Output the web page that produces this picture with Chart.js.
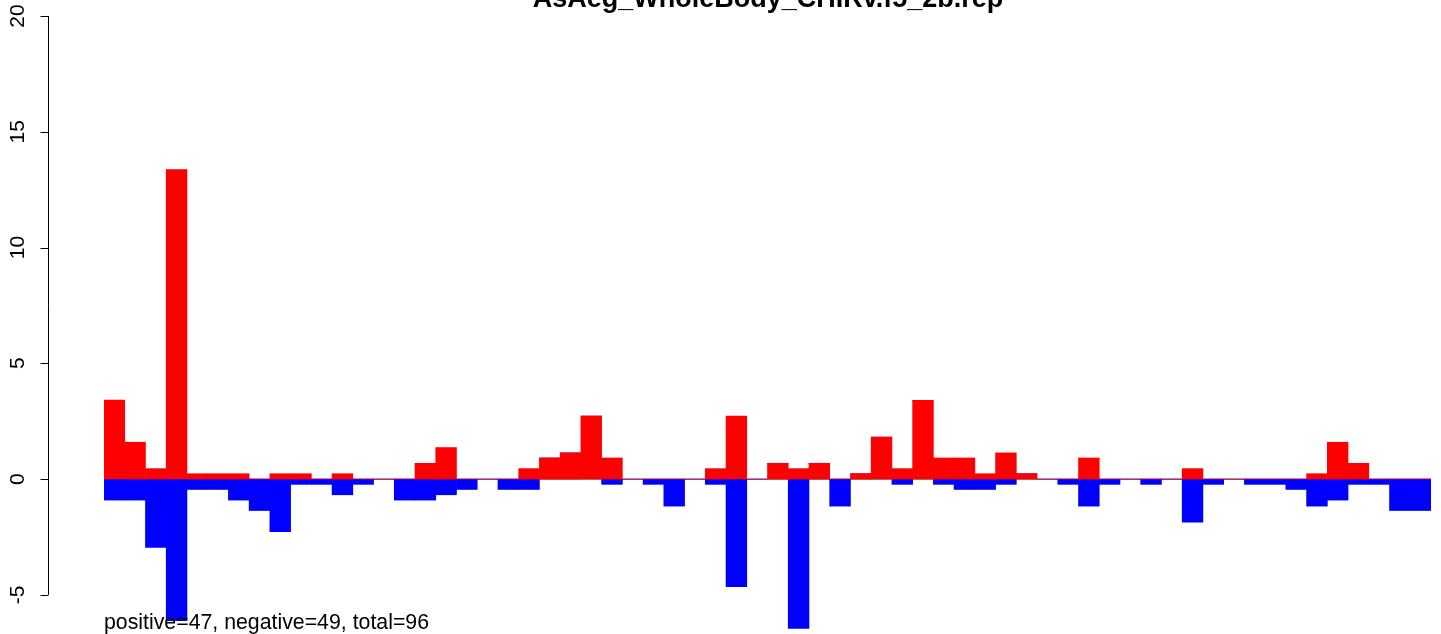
<!DOCTYPE html>
<html>
<head>
<meta charset="utf-8">
<script src="https://cdn.jsdelivr.net/npm/chart.js@4/dist/chart.umd.min.js"></script>
<style>
html,body{margin:0;padding:0;background:#fff;}
canvas{display:block;}
</style>
</head>
<body>
<canvas id="c" width="1441" height="634"></canvas>
<script>
const titleText = "AsAeg_WholeBody_CHIRv.f5_2b.rep";
const noteText = "positive=47, negative=49, total=96";
const categories = Array.from({length: 64}, (_, i) => String(i + 1));
const positiveValues = [
  3.41, 1.59, 0.45, 13.37, 0.23, 0.23, 0.23, 0, 0.23, 0.23,
  0, 0.23, 0, 0, 0, 0.68, 1.36, 0, 0, 0,
  0.45, 0.91, 1.13, 2.72, 0.91, 0, 0, 0, 0, 0.45,
  2.72, 0, 0.68, 0.45, 0.68, 0, 0.23, 1.81, 0.45, 3.40,
  0.91, 0.91, 0.23, 1.13, 0.23, 0, 0, 0.91, 0, 0,
  0, 0, 0.45, 0, 0, 0, 0, 0, 0.23, 1.59,
  0.68, 0, 0, 0
];
const negativeValues = [
  -0.91, -0.91, -2.95, -6.12, -0.45, -0.45, -0.91, -1.36, -2.27, -0.23,
  -0.23, -0.68, -0.23, 0, -0.91, -0.91, -0.68, -0.45, 0, -0.45,
  -0.45, 0, 0, 0, -0.23, 0, -0.23, -1.17, 0, -0.23,
  -4.65, 0, 0, -6.45, 0, -1.17, 0, 0, -0.23, 0,
  -0.23, -0.45, -0.45, -0.23, 0, 0, -0.23, -1.17, -0.23, 0,
  -0.23, 0, -1.86, -0.23, 0, -0.23, -0.23, -0.45, -1.17, -0.91,
  -0.23, -0.23, -1.36, -1.36
];
const yTicks = [-5, 0, 5, 10, 15, 20];

const decor = {
  id: 'decor',
  beforeDatasetsDraw(chart) {
    const {ctx, chartArea, scales: {y}} = chart;
    const y0 = Math.round(y.getPixelForValue(0)) + 0.5;
    ctx.save();
    ctx.strokeStyle = '#8c8c8c';
    ctx.lineWidth = 1;
    ctx.beginPath();
    ctx.moveTo(chartArea.left, y0);
    ctx.lineTo(chartArea.right, y0);
    ctx.stroke();
    ctx.restore();
  },
  afterDraw(chart) {
    const {ctx, scales: {y}} = chart;
    const ax = 48.5;
    ctx.save();
    ctx.strokeStyle = '#000';
    ctx.lineWidth = 1;
    ctx.beginPath();
    ctx.moveTo(ax, y.getPixelForValue(yTicks[yTicks.length - 1]));
    ctx.lineTo(ax, y.getPixelForValue(yTicks[0]));
    yTicks.forEach(v => {
      const py = Math.round(y.getPixelForValue(v)) + 0.5;
      ctx.moveTo(ax, py);
      ctx.lineTo(ax - 8, py);
    });
    ctx.stroke();
    ctx.fillStyle = '#000';
    ctx.font = '21px "Liberation Sans", Arial, sans-serif';
    ctx.textAlign = 'center';
    ctx.textBaseline = 'alphabetic';
    yTicks.forEach(v => {
      const py = y.getPixelForValue(v);
      ctx.save();
      ctx.translate(24, py);
      ctx.rotate(-Math.PI / 2);
      ctx.fillText(String(v), 0, 0);
      ctx.restore();
    });
    ctx.font = 'bold 27px "Liberation Sans", Arial, sans-serif';
    ctx.textAlign = 'center';
    ctx.fillText(titleText, 768, 7);
    ctx.font = '21.3px "Liberation Sans", Arial, sans-serif';
    ctx.textAlign = 'left';
    ctx.fillText(noteText, 104, 629);
    ctx.restore();
  }
};

new Chart(document.getElementById('c'), {
  type: 'bar',
  data: {
    labels: categories,
    datasets: [
      {label: 'positive', data: positiveValues, backgroundColor: '#ff0000', borderWidth: 0, barPercentage: 1, categoryPercentage: 1},
      {label: 'negative', data: negativeValues, backgroundColor: '#0000ff', borderWidth: 0, barPercentage: 1, categoryPercentage: 1}
    ]
  },
  options: {
    responsive: false,
    devicePixelRatio: 1,
    animation: false,
    layout: {padding: {left: 104, right: 10, top: 16, bottom: 1}},
    plugins: {legend: {display: false}, tooltip: {enabled: false}, title: {display: false}},
    scales: {
      x: {display: false, stacked: true, offset: true},
      y: {display: false, stacked: true, min: -6.65, max: 20}
    }
  },
  plugins: [decor]
});
</script>
</body>
</html>
